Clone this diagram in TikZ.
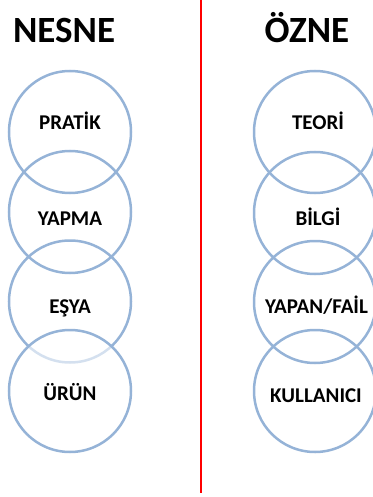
\documentclass[tikz,border=0pt]{standalone}
\usepackage{fontspec}
\setmainfont{Carlito}
\definecolor{ringblue}{RGB}{149,179,215}

\begin{document}
\begin{tikzpicture}[x=1pt,y=-1pt,
    ring/.style={circle,draw=ringblue,line width=2.5pt,minimum size=122pt,inner sep=0pt},
    word/.style={font=\bfseries\fontsize{21}{25}\selectfont,anchor=base},
    head/.style={font=\bfseries\fontsize{37}{41}\selectfont,anchor=base}]
    \useasboundingbox (0,0) rectangle (372,497);
    % dividing line
    \coordinate (top) at (200.5,0);
    \coordinate (bot) at (200.5,493);
    \draw[red,line width=2pt] (top) -- (bot);
    % left column
    \node[head] (nesne) at (64,43) {NESNE};
    \node[ring] (pratik) at (70,132) {};
    \node[ring] (yapma) at (70,212) {};
    \node[ring] (esya) at (70,301.5) {};
    \node[ring,fill=white,fill opacity=0.6,text opacity=1] (urun) at (70,391) {};
    \node[word] (pratikw) at (70,130) {PRATİK};
    \node[word] (yapmaw) at (70,225) {YAPMA};
    \node[word] (esyaw) at (70,313) {EŞYA};
    \node[word] (urunw) at (70,400) {ÜRÜN};
    % right column
    \node[head] (ozne) at (307,43) {ÖZNE};
    \node[ring] (teori) at (315,132) {};
    \node[ring] (bilgi) at (315,213) {};
    \node[ring] (fail) at (315,302) {};
    \node[ring] (kullanici) at (315,391) {};
    \node[word] (teoriw) at (318,130) {TEORİ};
    \node[word] (bilgiw) at (318,225) {BİLGİ};
    \node[word] (failw) at (316.5,313) {YAPAN/FAİL};
    \node[word] (kullaniciw) at (316,402) {KULLANICI};
\end{tikzpicture}
\end{document}
